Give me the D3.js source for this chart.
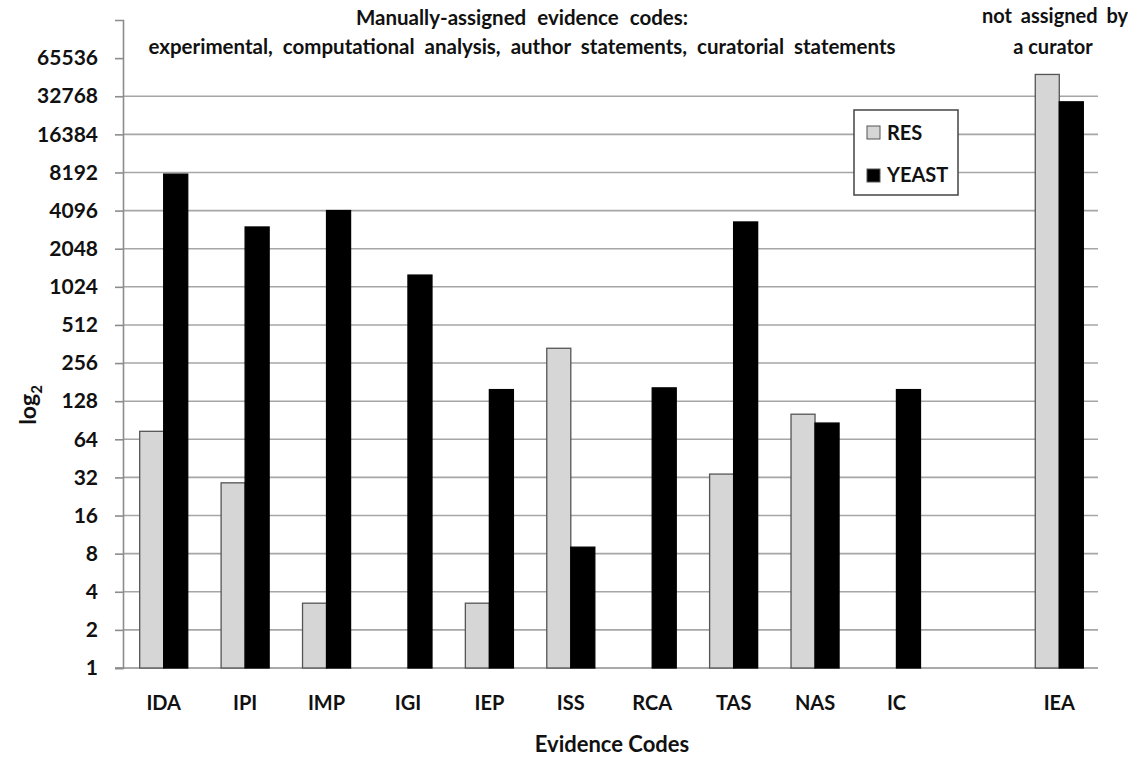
<!DOCTYPE html>
<html>
<head>
<meta charset="utf-8">
<script src="https://cdn.jsdelivr.net/npm/d3@7"></script>
<style>
  body { margin: 0; background: #fff; }
  text { font-family: Lato, "Open Sans", sans-serif; font-weight: bold; fill: #111; }
</style>
</head>
<body>
<div id="chart-area"></div>
<script>
// evidence codes (the empty slot separates the curator codes from IEA)
const codes = ['IDA', 'IPI', 'IMP', 'IGI', 'IEP', 'ISS', 'RCA', 'TAS', 'NAS', 'IC', '', 'IEA'];
const series = ['RES', 'YEAST'];
const resValues   = [74, 29, 3.25, null, 3.25, 335, null, 34, 101, null, null, 48700];
const yeastValues = [7950, 3040, 4100, 1268, 158, 9, 163, 3330, 86, 158, null, 29600];
const yTicks = [1, 2, 4, 8, 16, 32, 64, 128, 256, 512, 1024, 2048, 4096, 8192, 16384, 32768, 65536];

const width = 1128;
const height = 758;
const margin = {top: 20, right: 28, bottom: 90, left: 123};

const svg = d3.select('#chart-area')
  .append('svg')
  .attr('width', width)
  .attr('height', height);

const x = d3.scaleBand()
  .domain(codes)
  .range([margin.left, width - margin.right]);

const x1 = d3.scaleBand()
  .domain(series)
  .range([x.bandwidth() * 0.205, x.bandwidth() * 0.795]);

const y = d3.scaleLog()
  .base(2)
  .domain([1, 131072])
  .range([height - margin.bottom, margin.top]);

const color = {RES: '#d6d6d6', YEAST: '#000'};

// gridlines
svg.append('g')
  .selectAll('line')
  .data(yTicks.filter(d => d > 1 && d < 65536))
  .enter().append('line')
  .attr('x1', margin.left)
  .attr('x2', width - margin.right - 2)
  .attr('y1', d => y(d))
  .attr('y2', d => y(d))
  .attr('stroke', '#a6a6a6')
  .attr('stroke-width', 1.6);

// y axis
const yAxis = d3.axisLeft(y)
  .tickValues(yTicks)
  .tickFormat(d3.format('d'))
  .tickSize(8)
  .tickPadding(17);

const gy = svg.append('g')
  .attr('transform', `translate(${margin.left},0)`)
  .call(yAxis);
gy.select('.domain').attr('stroke', '#8c8c8c').attr('stroke-width', 1.6);
gy.selectAll('.tick line').attr('stroke', '#8c8c8c').attr('stroke-width', 1.6);
gy.selectAll('.tick text')
  .attr('font-size', '21px')
  .attr('font-family', 'Lato, sans-serif')
  .attr('fill', '#111');

// x axis
const xAxis = d3.axisBottom(x).tickSize(0).tickPadding(28);
const gx = svg.append('g')
  .attr('transform', `translate(0,${height - margin.bottom})`)
  .call(xAxis);
gx.select('.domain').attr('stroke', '#8c8c8c').attr('stroke-width', 1.6)
  .attr('d', `M${margin.left - 8},0H${width - margin.right - 2}`);
gx.selectAll('.tick text')
  .attr('font-size', '20px')
  .attr('font-family', 'Lato, sans-serif')
  .attr('fill', '#111');

// bars
const rows = codes.map((c, i) => ({code: c, RES: resValues[i], YEAST: yeastValues[i]}));

const groups = svg.append('g')
  .selectAll('g')
  .data(rows)
  .enter().append('g')
  .attr('transform', d => `translate(${x(d.code)},0)`);

groups.selectAll('rect')
  .data(d => series.filter(s => d[s] != null).map(s => ({key: s, value: d[s]})))
  .enter().append('rect')
  .attr('x', d => x1(d.key))
  .attr('width', x1.bandwidth())
  .attr('y', d => y(d.value))
  .attr('height', d => y(1) - y(d.value))
  .attr('fill', d => color[d.key])
  .attr('stroke', d => d.key === 'RES' ? '#555' : '#000')
  .attr('stroke-width', 1.3);

// legend
const legend = svg.append('g').attr('transform', 'translate(854,110)');
legend.append('rect')
  .attr('width', 104).attr('height', 85)
  .attr('fill', '#fff').attr('stroke', '#444').attr('stroke-width', 1.5);
series.forEach((s, i) => {
  legend.append('rect')
    .attr('x', 13).attr('y', 16 + i * 43)
    .attr('width', 13).attr('height', 13)
    .attr('fill', color[s]).attr('stroke', '#555').attr('stroke-width', 1);
  legend.append('text')
    .attr('x', 33).attr('y', 30 + i * 42)
    .attr('font-size', '20px')
    .text(s);
});

// titles
svg.append('text')
  .attr('x', 522).attr('y', 25)
  .attr('text-anchor', 'middle')
  .attr('font-size', '20.5px')
  .attr('word-spacing', '6px')
  .text('Manually-assigned evidence codes:');

svg.append('text')
  .attr('x', 522).attr('y', 54)
  .attr('text-anchor', 'middle')
  .attr('font-size', '20.5px')
  .attr('word-spacing', '5px')
  .text('experimental, computational analysis, author statements, curatorial statements');

svg.append('text')
  .attr('x', 1055).attr('y', 23)
  .attr('text-anchor', 'middle')
  .attr('font-size', '20px')
  .attr('word-spacing', '4px')
  .text('not assigned by');

svg.append('text')
  .attr('x', 1053).attr('y', 54)
  .attr('text-anchor', 'middle')
  .attr('font-size', '20px')
  .text('a curator');

svg.append('text')
  .attr('x', 612).attr('y', 752)
  .attr('text-anchor', 'middle')
  .attr('font-size', '22px')
  .text('Evidence Codes');

const yLabel = svg.append('text')
  .attr('transform', 'translate(36,405) rotate(-90)')
  .attr('text-anchor', 'middle')
  .attr('font-size', '23px');
yLabel.append('tspan').text('log');
yLabel.append('tspan').attr('font-size', '15px').attr('dy', 6).text('2');
</script>
</body>
</html>
